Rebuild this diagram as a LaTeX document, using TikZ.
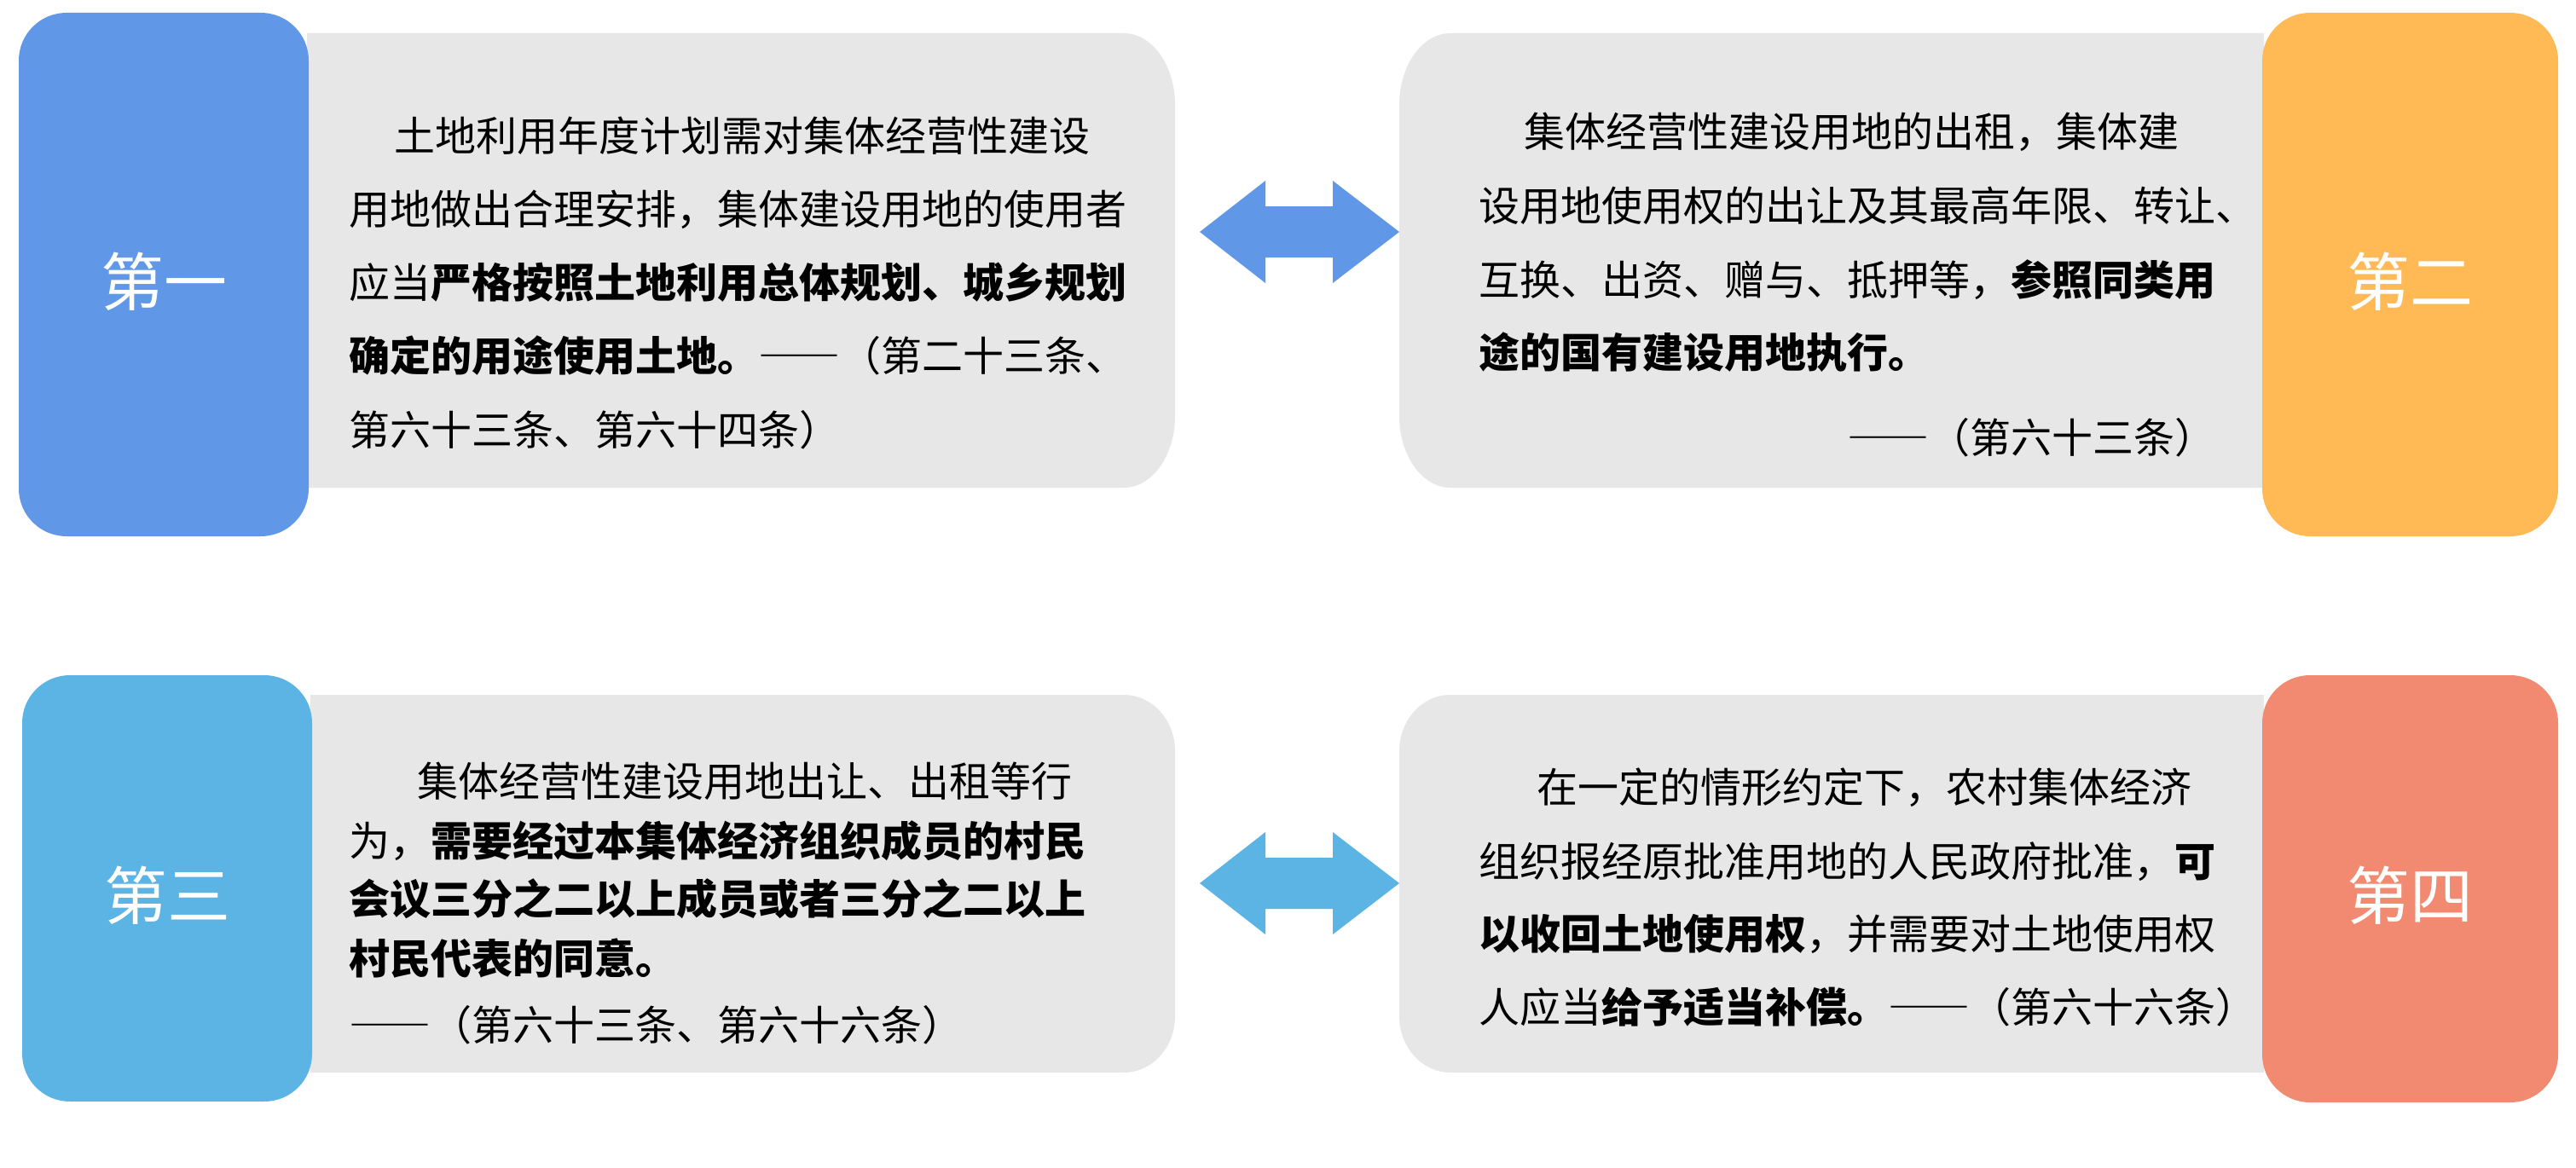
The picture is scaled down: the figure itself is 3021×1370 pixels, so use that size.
\documentclass[tikz,border=0pt]{standalone}
\usepackage{fontspec}
\newfontfamily\cjk{Noto Sans CJK SC}
\newcommand\fwdash{{\addfontfeature{CharacterWidth=Full}——}}
\definecolor{cOne}{HTML}{6097E6}
\definecolor{cTwo}{HTML}{FFB955}
\definecolor{cThree}{HTML}{5BB4E4}
\definecolor{cFour}{HTML}{F18A70}
\definecolor{cGrey}{HTML}{E7E7E7}
\tikzset{
  txt/.style={anchor=base west, inner sep=0pt, text=black, font=\cjk\fontsize{24pt}{24pt}\selectfont},
  labbox/.style={rectangle, rounded corners=28pt, inner sep=0pt, draw=none},
  labtxt/.style={inner sep=0pt, text=white, font=\cjk\fontsize{37pt}{37pt}\selectfont},
  greybox/.style={fill=cGrey},
}
\begin{document}
\begin{tikzpicture}[x=0.5pt,y=0.5pt]
\useasboundingbox (0,0) rectangle (3021,-1370);
\fill[white] (0,0) rectangle (3021,-1370);

% grey text panels
\fill[greybox] (360,-39) -- (1318,-39) arc[start angle=90,end angle=0,x radius=30pt,y radius=42pt]
  -- (1378,-488) arc[start angle=0,end angle=-90,x radius=30pt,y radius=42pt] -- (360,-572) -- cycle;
\fill[greybox] (2655,-39) -- (1701,-39) arc[start angle=90,end angle=180,x radius=30pt,y radius=42pt]
  -- (1641,-488) arc[start angle=180,end angle=270,x radius=30pt,y radius=42pt] -- (2655,-572) -- cycle;
\fill[greybox] (364,-815) -- (1318,-815) arc[start angle=90,end angle=0,x radius=30pt,y radius=33pt]
  -- (1378,-1192) arc[start angle=0,end angle=-90,x radius=30pt,y radius=33pt] -- (364,-1258) -- cycle;
\fill[greybox] (2655,-815) -- (1701,-815) arc[start angle=90,end angle=180,x radius=30pt,y radius=33pt]
  -- (1641,-1192) arc[start angle=180,end angle=270,x radius=30pt,y radius=33pt] -- (2655,-1258) -- cycle;

% label boxes
\node[labbox, fill=cOne, minimum width=170pt, minimum height=307pt] (b1) at (192,-322) {};
\node[labbox, fill=cTwo, minimum width=173.5pt, minimum height=307pt] (b2) at (2826.5,-322) {};
\node[labbox, fill=cThree, minimum width=170pt, minimum height=250pt] (b3) at (196,-1042) {};
\node[labbox, fill=cFour, minimum width=173.5pt, minimum height=250.5pt] (b4) at (2826.5,-1042.5) {};
\node[labtxt] (l1) at ([yshift=-4pt]b1.center) {第一};
\node[labtxt] (l2) at ([yshift=-4pt]b2.center) {第二};
\node[labtxt] (l3) at ([yshift=-4pt]b3.center) {第三};
\node[labtxt] (l4) at ([yshift=-4pt]b4.center) {第四};

% double block arrows
\fill[cOne] (1407,-272) -- (1484,-212) -- (1484,-242) -- (1563,-242) -- (1563,-212) -- (1641,-272)
  -- (1563,-332) -- (1563,-302) -- (1484,-302) -- (1484,-332) -- cycle;
\fill[cThree] (1407,-1036) -- (1484,-976) -- (1484,-1006) -- (1563,-1006) -- (1563,-976) -- (1641,-1036)
  -- (1563,-1096) -- (1563,-1066) -- (1484,-1066) -- (1484,-1096) -- cycle;

% panel 1
\node[txt] (t1a) at (462,-177) {土地利用年度计划需对集体经营性建设};
\node[txt] (t1b) at (409,-263) {用地做出合理安排，集体建设用地的使用者};
\node[txt] (t1c) at (409,-349) {应当{\bfseries 严格按照土地利用总体规划、城乡规划}};
\node[txt] (t1d) at (409,-435) {{\bfseries 确定的用途使用土地。}\fwdash（第二十三条、};
\node[txt] (t1e) at (409,-522) {第六十三条、第六十四条）};

% panel 2
\node[txt] (t2a) at (1787,-173) {集体经营性建设用地的出租，集体建};
\node[txt] (t2b) at (1734,-259) {设用地使用权的出让及其最高年限、转让、};
\node[txt] (t2c) at (1734,-346) {互换、出资、赠与、抵押等，{\bfseries 参照同类用}};
\node[txt] (t2d) at (1734,-431) {{\bfseries 途的国有建设用地执行。}};
\node[txt] (t2e) at (2166,-531) {\fwdash（第六十三条）};

% panel 3
\node[txt] (t3a) at (489,-934) {集体经营性建设用地出让、出租等行};
\node[txt] (t3b) at (409,-1004) {为，{\bfseries 需要经过本集体经济组织成员的村民}};
\node[txt] (t3c) at (409,-1072) {{\bfseries 会议三分之二以上成员或者三分之二以上}};
\node[txt] (t3d) at (409,-1142) {{\bfseries 村民代表的同意。}};
\node[txt] (t3e) at (409,-1220) {\fwdash（第六十三条、第六十六条）};

% panel 4
\node[txt] (t4a) at (1802,-941) {在一定的情形约定下，农村集体经济};
\node[txt] (t4b) at (1734,-1028) {组织报经原批准用地的人民政府批准，{\bfseries 可}};
\node[txt] (t4c) at (1734,-1113) {{\bfseries 以收回土地使用权}，并需要对土地使用权};
\node[txt] (t4d) at (1734,-1199) {人应当{\bfseries 给予适当补偿。}\fwdash（第六十六条）};
\end{tikzpicture}
\end{document}
